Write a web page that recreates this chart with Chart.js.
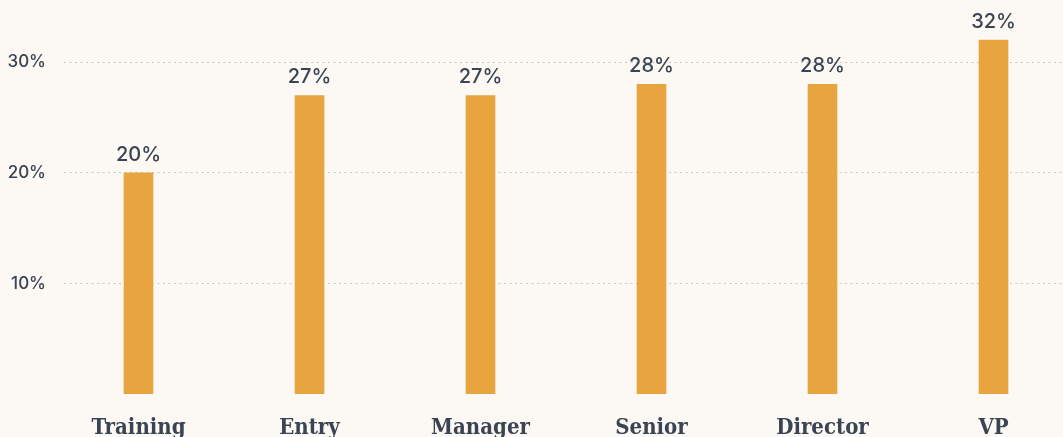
<!DOCTYPE html>
<html lang="en">
<head>
  <meta charset="UTF-8">
  <title>Share by level</title>
  <script src="https://cdn.jsdelivr.net/npm/chart.js"></script>
  <style>
    html, body {
      margin: 0;
      padding: 0;
      background: #fcf9f5;
      overflow: hidden;
    }

    .wrap {
      position: relative;
      width: 1063px;
      height: 460px;
    }
  </style>
</head>
<body>

<div class="wrap">
  <canvas id="levelChart"></canvas>
</div>

<script>
  // categories + values (percent)
  const levels = ['Training', 'Entry', 'Manager', 'Senior', 'Director', 'VP'];
  const shares = [20, 27, 27, 28, 28, 32];
  const yTicks = [10, 20, 30];

  const inkColor = '#3b4452';

  // value labels above the bars
  const valueLabels = {
    id: 'valueLabels',
    afterDatasetsDraw(chart) {
      const ctx = chart.ctx;
      const meta = chart.getDatasetMeta(0);
      ctx.save();
      ctx.font = '500 20px Inter, "Noto Sans", sans-serif';
      ctx.fillStyle = inkColor;
      ctx.textAlign = 'center';
      ctx.textBaseline = 'alphabetic';
      meta.data.forEach((bar, i) => {
        ctx.fillText(shares[i] + '%', bar.x, bar.y - 12);
      });
      ctx.restore();
    }
  };

  new Chart(document.getElementById('levelChart'), {
    type: 'bar',
    data: {
      datasets: [{
        data: shares.map((v, i) => ({ x: i, y: v })),
        backgroundColor: '#e7a43f',
        barThickness: 29
      }]
    },
    options: {
      responsive: true,
      maintainAspectRatio: false,
      animation: false,
      layout: { padding: { top: 7, right: 0, bottom: 0, left: 0 } },
      plugins: {
        legend: { display: false },
        tooltip: { enabled: false }
      },
      scales: {
        x: {
          type: 'linear',
          offset: false,
          min: -0.4357,
          max: 5.4064,
          afterBuildTicks: axis => {
            axis.ticks = levels.map((_, i) => ({ value: i }));
          },
          afterFit: axis => { axis.height = 66; },
          grid: { display: false, drawTicks: false },
          border: { display: false },
          ticks: {
            padding: 21,
            maxRotation: 0,
            color: inkColor,
            font: { family: '"DejaVu Serif Condensed", "DejaVu Serif", serif', size: 22, weight: 'bold' },
            callback: v => levels[v]
          }
        },
        y: {
          min: 0,
          max: 35,
          afterBuildTicks: axis => {
            axis.ticks = yTicks.map(v => ({ value: v }));
          },
          afterFit: axis => {
            axis.width = 64;
            axis.paddingTop = 0;
            axis.paddingBottom = 0;
          },
          grid: {
            color: '#c6c6c6',
            lineWidth: 1,
            drawTicks: false
          },
          border: { display: false, dash: [2, 3.5] },
          ticks: {
            padding: 18,
            color: inkColor,
            font: { family: 'Inter, "Noto Sans", sans-serif', size: 17, weight: 500 },
            callback: v => v + '%'
          }
        }
      }
    },
    plugins: [valueLabels]
  });
</script>

</body>
</html>
